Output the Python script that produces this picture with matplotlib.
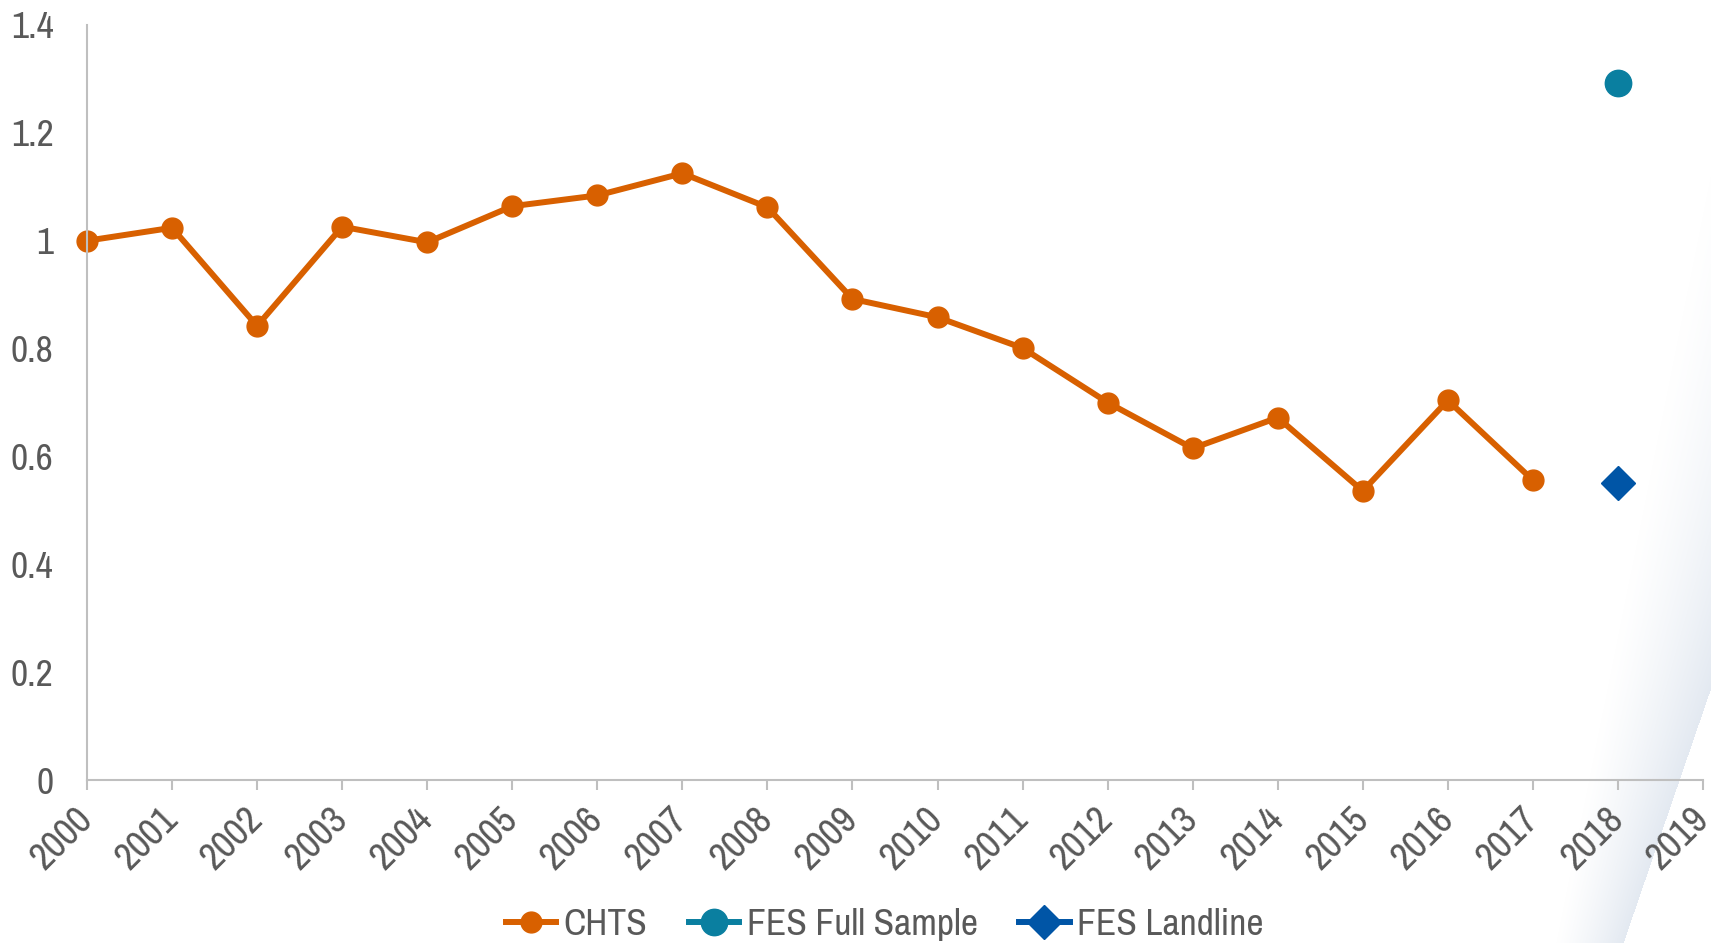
import numpy as np
import matplotlib
matplotlib.use('Agg')
import matplotlib.pyplot as plt
from matplotlib import font_manager

beschikbaar = {f.name for f in font_manager.fontManager.ttflist}
voorkeur = ['Liberation Sans Narrow', 'Arial Narrow', 'Nimbus Sans Narrow', 'Archivo Narrow',
            'Roboto Condensed', 'PT Sans Narrow', 'Pragati Narrow', 'Open Sans Condensed',
            'IBM Plex Sans Condensed', 'Encode Sans Condensed', 'DejaVu Sans Condensed']
lettertype = next((n for n in voorkeur if n in beschikbaar), 'DejaVu Sans')
plt.rcParams['font.family'] = [lettertype, 'DejaVu Sans']

jaren = list(range(2000, 2018))
chts = [1.00, 1.024, 0.842, 1.026, 0.997, 1.064, 1.084, 1.125, 1.062, 0.892,
        0.858, 0.801, 0.700, 0.615, 0.672, 0.536, 0.704, 0.556]
fes_jaar = [2018]
fes_full = [1.293]
fes_landline = [0.550]
xticks = list(range(2000, 2020))
yticks = [0, 0.2, 0.4, 0.6, 0.8, 1.0, 1.2, 1.4]

oranje = '#D86000'
teal = '#0A7FA0'
blauw = '#0055A6'
grijs = '#595959'
lijn = '#BFBFBF'

W, H = 1711, 943
fig = plt.figure(figsize=(W / 100, H / 100), dpi=100)

# decoratieve boog rechtsonder
bg = fig.add_axes([0, 0, 1, 1], zorder=0)
bg.set_xlim(0, W)
bg.set_ylim(H, 0)
bg.axis('off')
yy, xx = np.mgrid[0:H, 0:W]
xl = 1555 + (943 - yy) * 0.2
xr = 1623 + (943 - yy) * 0.344
t = np.clip((xx - xl) / (xr - xl), 0, 1)
t[xx > xr] = 0
img = np.zeros((H, W, 4))
img[..., 0] = 0xE3 / 255
img[..., 1] = 0xE9 / 255
img[..., 2] = 0xF1 / 255
img[..., 3] = t ** 1.2
bg.imshow(img, extent=(0, W, H, 0), interpolation='bilinear')

ax = fig.add_axes([87 / W, (H - 780) / H, (1703 - 87) / W, (780 - 25) / H], zorder=1)
ax.patch.set_alpha(0)

ax.plot(jaren, chts, color=oranje, lw=4.3, marker='o', ms=15, label='CHTS', clip_on=False)
ax.plot(fes_jaar, fes_full, color=teal, lw=4.3, marker='o', ms=19, label='FES Full Sample', clip_on=False)
ax.plot(fes_jaar, fes_landline, color=blauw, lw=4.3, marker='D', ms=17, label='FES Landline', clip_on=False)

ax.set_xlim(2000, 2019)
ax.set_ylim(0, 1.4)
ax.set_xticks(xticks)
ax.set_yticks(yticks)
ax.set_yticklabels([f'{v:g}' for v in yticks])
ax.set_xticklabels([str(j) for j in xticks], rotation=45, ha='right', va='center',
                   rotation_mode='anchor')

for s in ['top', 'right']:
  ax.spines[s].set_visible(False)
for s in ['left', 'bottom']:
  ax.spines[s].set_color(lijn)
  ax.spines[s].set_linewidth(1.5)

ax.tick_params(axis='y', length=0, pad=24, labelsize=27, labelcolor=grijs)
ax.tick_params(axis='x', length=7, width=1.5, color=lijn, pad=17, labelsize=28, labelcolor=grijs)

leg = fig.legend(loc='center', bbox_to_anchor=(0.517, 0.02), ncol=3, frameon=False,
                 fontsize=27, handlelength=1.35, handletextpad=0.2, columnspacing=1.1,
                 labelcolor=grijs)

fig.savefig('out.png', dpi=100)
plt.close(fig)
